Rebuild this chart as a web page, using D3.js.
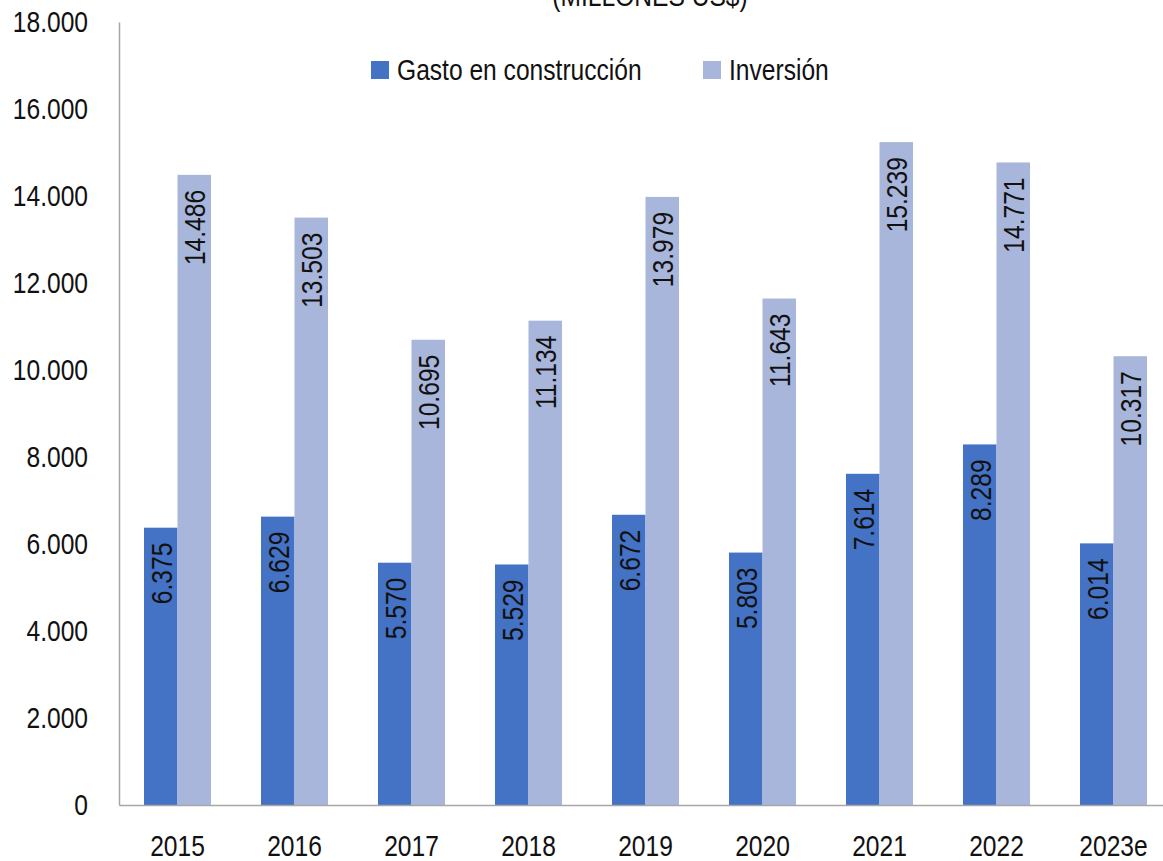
<!DOCTYPE html>
<html>
<head>
<meta charset="utf-8">
<script src="https://cdn.jsdelivr.net/npm/d3@7"></script>
<style>
  html, body { margin: 0; padding: 0; background: #fff; overflow: hidden; }
  svg { display: block; }
  text { font-family: "Liberation Sans", Arial, sans-serif; fill: #111; }
</style>
</head>
<body>
<svg id="chart" width="1163" height="861"></svg>
<script>
// Construction spending vs. investment, millions of US$
const years = ["2015", "2016", "2017", "2018", "2019", "2020", "2021", "2022", "2023e"];
const gastoConstruccion = [6375, 6629, 5570, 5529, 6672, 5803, 7614, 8289, 6014];
const inversion = [14486, 13503, 10695, 11134, 13979, 11643, 15239, 14771, 10317];
const yTicks = [0, 2000, 4000, 6000, 8000, 10000, 12000, 14000, 16000, 18000];
const seriesNames = ["Gasto en construcción", "Inversión"];
const seriesColors = ["#4472C4", "#A9B6DB"];

const svg = d3.select("#chart");
const plotLeft = 119, plotRight = 1172, plotTop = 22, plotBottom = 805;
const narrow = 0.82;          // horizontal squeeze for a condensed look
const fontSize = "30px";

const fmt = v => d3.format(",")(v).replace(/,/g, ".");

const x = d3.scaleBand().domain(years).range([plotLeft, plotRight]).paddingInner(50 / 117).paddingOuter(25 / 117);
const xs = d3.scaleBand().domain([0, 1]).range([0, x.bandwidth()]);
const y = d3.scaleLinear().domain([0, 18000]).range([plotBottom, plotTop]);

// Title (partly above the visible area)
svg.append("text").attr("transform", `translate(650,6) scale(${narrow},1)`).attr("text-anchor", "middle")
  .style("font-size", fontSize).text("(MILLONES US$)");

// Bars
const rows = years.map((yr, i) => ({ yr, vals: [gastoConstruccion[i], inversion[i]] }));
const groups = svg.append("g").selectAll("g").data(rows).join("g")
  .attr("transform", d => `translate(${x(d.yr)},0)`);

groups.selectAll("rect").data(d => d.vals.map((v, k) => ({ v, k }))).join("rect")
  .attr("x", d => xs(d.k)).attr("width", xs.bandwidth())
  .attr("y", d => y(d.v)).attr("height", d => y(0) - y(d.v))
  .attr("fill", d => seriesColors[d.k]);

// Value labels, rotated, inside the top of each bar
groups.selectAll("text.val").data(d => d.vals.map((v, k) => ({ v, k }))).join("text")
  .attr("class", "val")
  .attr("transform", d => `translate(${xs(d.k) + xs.bandwidth() / 2 + 11},${y(d.v) + 15}) rotate(-90) scale(${narrow},1)`)
  .attr("text-anchor", "end")
  .style("font-size", fontSize)
  .text(d => fmt(d.v));

// Axes
const yAxis = svg.append("g").attr("transform", `translate(${plotLeft},0)`)
  .call(d3.axisLeft(y).tickValues(yTicks).tickSize(0).tickPadding(31).tickFormat(fmt));
yAxis.select(".domain").attr("stroke", "#a6a6a6").attr("stroke-width", 1.5);
yAxis.selectAll(".tick text")
  .attr("x", -31 / narrow).attr("transform", `scale(${narrow},1)`)
  .style("font-size", fontSize).attr("font-family", null).attr("fill", "#111");

const xAxis = svg.append("g").attr("transform", `translate(0,${plotBottom})`)
  .call(d3.axisBottom(x).tickSize(0).tickPadding(30));
xAxis.select(".domain").attr("stroke", "#a6a6a6").attr("stroke-width", 1.5);
xAxis.selectAll(".tick text")
  .attr("transform", `scale(${narrow},1)`)
  .style("font-size", fontSize).attr("font-family", null).attr("fill", "#111");
svg.selectAll(".tick line").remove();

// Legend
const legendX = [371, 703];
const legend = svg.append("g").selectAll("g").data(seriesNames).join("g")
  .attr("transform", (d, i) => `translate(${legendX[i]},61)`);
legend.append("rect").attr("width", 18).attr("height", 18).attr("fill", (d, i) => seriesColors[i]);
legend.append("text").attr("transform", `translate(26,19) scale(${narrow},1)`)
  .style("font-size", fontSize).text(d => d);
</script>
</body>
</html>
